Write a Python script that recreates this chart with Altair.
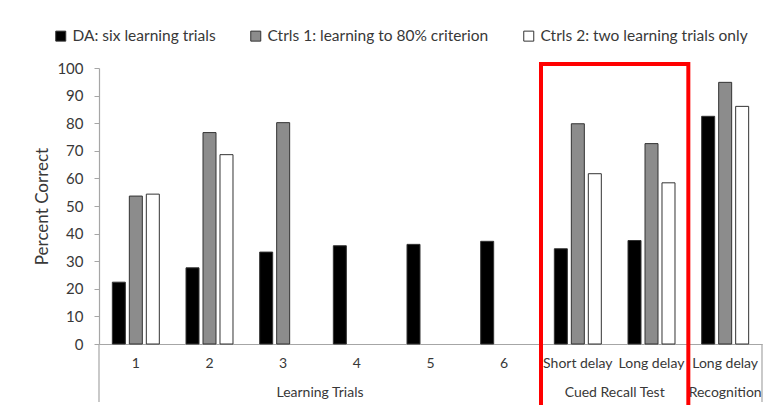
import altair as alt
import pandas as pd

# ---- data ----
categories = ["1", "2", "3", "4", "5", "6", "Short delay",
              "Long delay (cued)", "Long delay (recognition)"]
series = ["DA: six learning trials",
          "Ctrls 1: learning to 80% criterion",
          "Ctrls 2: two learning trials only"]
da_values = [22.4, 27.6, 33.3, 35.6, 36.1, 37.2, 34.5, 37.5, 82.5]
ctrl1_values = [53.6, 76.6, 80.2, None, None, None, 79.8, 72.6, 94.8]
ctrl2_values = [54.3, 68.6, None, None, None, None, 61.7, 58.4, 86.1]
series_colors = ["#000000", "#8c8c8c", "#ffffff"]

group_names = ["Learning Trials", "Cued Recall Test", "Recognition"]
group_anchor = ["4", "Long delay (cued)", "Long delay (recognition)"]
group_band = [0, 0, 0.5]

highlight_start = ["Short delay"]
highlight_end = ["Long delay (recognition)"]

rows = []
for s, vals in zip(series, [da_values, ctrl1_values, ctrl2_values]):
    for c, v in zip(categories, vals):
        if v is not None:
            rows.append({"category": c, "series": s, "value": v})
df = pd.DataFrame(rows)

FONT = "Lato"
TXT = "#383838"
AXIS_GRAY = "#a6a6a6"

xscale = alt.Scale(domain=categories, paddingInner=0, paddingOuter=0)

bars = alt.Chart(df).mark_bar(stroke="#333333", strokeWidth=1).encode(
    x=alt.X("category:N", sort=categories, scale=xscale, title=None,
            axis=alt.Axis(labelExpr="split(datum.label, ' (')[0]", labelAngle=0,
                          ticks=False, tickSize=0, labelPadding=19,
                          labelBaseline="middle", labelFontSize=14,
                          labelColor=TXT, labelFont=FONT,
                          domainColor=AXIS_GRAY, domainWidth=1.2)),
    xOffset=alt.XOffset("series:N", sort=series,
                        scale=alt.Scale(paddingInner=0.235, paddingOuter=0.785)),
    y=alt.Y("value:Q", scale=alt.Scale(domain=[0, 100]),
            axis=alt.Axis(values=list(range(0, 101, 10)), grid=False,
                          tickSize=5, tickColor=AXIS_GRAY, domainColor=AXIS_GRAY,
                          domainWidth=1.2, labelPadding=11, labelFontSize=15,
                          labelColor=TXT, labelFont=FONT,
                          title="Percent Correct", titleFont=FONT,
                          titleFontSize=17, titleFontWeight="normal",
                          titleColor=TXT, titleX=-57, titleY=138,
                          titleBaseline="middle", titleAlign="center")),
    color=alt.Color("series:N", sort=series,
                    scale=alt.Scale(domain=series, range=series_colors),
                    legend=alt.Legend(title=None, orient="none", legendX=-46,
                                      legendY=-40, direction="horizontal",
                                      columns=3, columnPadding=32,
                                      symbolType="square", symbolSize=100,
                                      symbolStrokeColor="#333333",
                                      symbolStrokeWidth=1, labelOffset=4,
                                      labelFontSize=15.5, labelFont=FONT,
                                      labelColor=TXT, labelLimit=400)),
)

# Excel-style vertical frame lines of the category axis
bounds_df = pd.DataFrame({"category": [categories[0], highlight_start[0], categories[-1]]})
left_lines = alt.Chart(bounds_df).mark_rule(color=AXIS_GRAY, strokeWidth=1.2).encode(
    x=alt.X("category:N", sort=categories, bandPosition=0),
    y=alt.value(276), y2=alt.value(334))
right_line = alt.Chart(pd.DataFrame({"category": [categories[-1]]})).mark_rule(
    color=AXIS_GRAY, strokeWidth=1.2).encode(
    x=alt.X("category:N", sort=categories, bandPosition=1),
    y=alt.value(276), y2=alt.value(334))

# group labels
gdf = pd.DataFrame({"name": group_names, "anchor": group_anchor, "band": group_band})
glabels0 = alt.Chart(gdf[gdf.band == 0]).mark_text(
    font=FONT, fontSize=14, color=TXT, baseline="middle").encode(
    x=alt.X("anchor:N", sort=categories, bandPosition=0),
    y=alt.value(325), text="name:N")
glabels1 = alt.Chart(gdf[gdf.band == 0.5]).mark_text(
    font=FONT, fontSize=14, color=TXT, baseline="middle").encode(
    x=alt.X("anchor:N", sort=categories, bandPosition=0.5),
    y=alt.value(325), text="name:N")

# red highlight box around the cued recall test
hdf = pd.DataFrame({"start": highlight_start, "end": highlight_end})
box = alt.Chart(hdf).mark_rect(fillOpacity=0, stroke="#ff0000", strokeWidth=4).encode(
    x=alt.X("start:N", sort=categories, bandPosition=0),
    x2=alt.X2("end:N", bandPosition=0),
    y=alt.value(-4), y2=alt.value(420))

chart = alt.layer(bars, left_lines, right_line, glabels0, glabels1, box).properties(
    width=663, height=276,
    autosize=alt.AutoSizeParams(type="none"),
    padding={"left": 91, "top": 60, "right": 4, "bottom": 61},
    background="white",
).configure_view(stroke=None)

chart.save("out.html", embed_options={"renderer": "svg", "actions": False})
